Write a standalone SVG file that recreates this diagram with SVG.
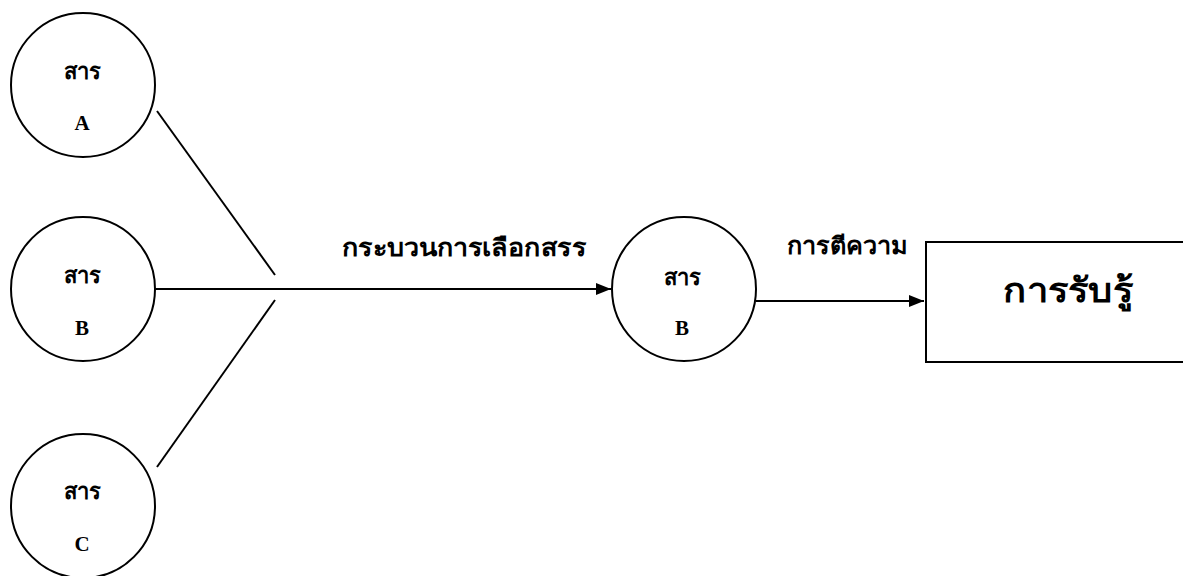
<svg xmlns="http://www.w3.org/2000/svg" width="1183" height="576" viewBox="0 0 1183 576">
  <style>
    .node { fill: #fff; stroke: #000; stroke-width: 2; }
    .link { fill: none; stroke: #000; stroke-width: 2; }
    .th { font-family: "Liberation Serif", "Noto Sans", serif; font-weight: bold; fill: #000; text-anchor: middle; }
    .lat { font-family: "Liberation Serif", serif; font-weight: bold; fill: #000; text-anchor: middle; font-size: 21px; }
  </style>
  <defs>
    <marker id="arrow" markerWidth="16" markerHeight="12" refX="15" refY="6" orient="auto" markerUnits="userSpaceOnUse">
      <path d="M0,0 L15,6 L0,12 Z" fill="#000"/>
    </marker>
  </defs>
  <rect width="1183" height="576" fill="#fff"/>

  <g id="connectors">
    <line class="link" x1="157" y1="111" x2="275" y2="275"/>
    <line class="link" x1="275" y1="300" x2="157" y2="467"/>
    <line class="link" x1="155" y1="289" x2="611" y2="289" marker-end="url(#arrow)"/>
    <line class="link" x1="756" y1="301" x2="924" y2="301" marker-end="url(#arrow)"/>
    <text class="th" x="464" y="256" font-size="24" textLength="245" lengthAdjust="spacingAndGlyphs">กระบวนการเลือกสรร</text>
    <text class="th" x="847" y="254" font-size="24" textLength="121" lengthAdjust="spacingAndGlyphs">การตีความ</text>
  </g>

  <g id="node-a">
    <circle class="node" cx="83" cy="85" r="72"/>
    <text class="th" x="82" y="79" font-size="22">สาร</text>
    <text class="lat" x="82" y="130">A</text>
  </g>

  <g id="node-b">
    <circle class="node" cx="83" cy="289" r="72"/>
    <text class="th" x="82" y="283" font-size="22">สาร</text>
    <text class="lat" x="82" y="335">B</text>
  </g>

  <g id="node-c">
    <circle class="node" cx="83" cy="506" r="72"/>
    <text class="th" x="82" y="499" font-size="22">สาร</text>
    <text class="lat" x="82" y="551">C</text>
  </g>

  <g id="node-b-selected">
    <circle class="node" cx="684" cy="289" r="72"/>
    <text class="th" x="682" y="285" font-size="22">สาร</text>
    <text class="lat" x="682" y="335">B</text>
  </g>

  <g id="node-perception">
    <rect class="node" x="926" y="242" width="270" height="120"/>
    <text class="th" x="1068" y="302" font-size="34" textLength="130" lengthAdjust="spacingAndGlyphs">การรับรู้</text>
  </g>
</svg>
